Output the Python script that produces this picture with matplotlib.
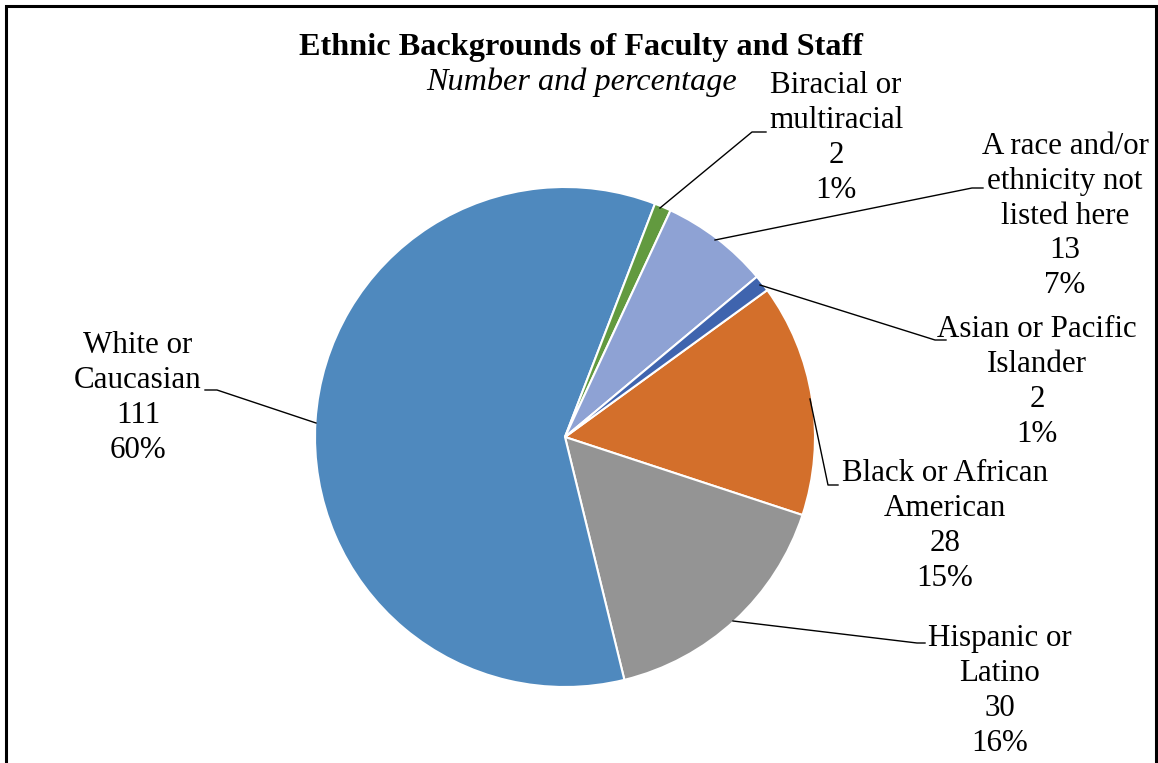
import matplotlib.pyplot as plt
from matplotlib.patches import Rectangle

plt.rcParams['font.family'] = ['Liberation Serif', 'DejaVu Serif']

# data, in the drawing order (clockwise from the top right)
labels = ["Black or African\nAmerican", "Hispanic or\nLatino", "White or\nCaucasian",
          "Biracial or\nmultiracial", "A race and/or\nethnicity not\nlisted here",
          "Asian or Pacific\nIslander"]
counts = [28, 30, 111, 2, 13, 2]
percents = ["15%", "16%", "60%", "1%", "7%", "1%"]
colors = ['#D36F2B', '#949494', '#4F89BE', '#629A3F', '#8EA2D4', '#3F64AE']

W, H = 1158, 763


def px(x, y):
    # pixel position (top-left origin) -> data coords
    return x, H - y


fig = plt.figure(figsize=(W / 100, H / 100), dpi=100)
ax = fig.add_axes([0, 0, 1, 1])
ax.axis('off')

ax.pie(counts, colors=colors, startangle=36, counterclock=False,
       center=px(565, 437), radius=250,
       wedgeprops=dict(edgecolor='white', linewidth=1.5))
ax.set_xlim(0, W)
ax.set_ylim(0, H)
ax.set_aspect('equal')

# label positions and leader lines (layout only)
label_pos = [(945, 526), (1000, 691), (138, 398), (836, 138), (1065, 216), (1037, 382)]
leaders = [
    [(810, 399), (828, 485), (838, 485)],
    [(733, 621), (917, 643), (925, 643)],
    [(316, 423), (217, 390), (205, 390)],
    [(660, 208), (752, 132), (766, 132)],
    [(715, 240), (972, 188), (983, 188)],
    [(760, 285), (935, 340), (946, 340)],
]

for lab, n, p, pos, pts in zip(labels, counts, percents, label_pos, leaders):
    ax.text(*px(*pos), f"{lab}\n{n}\n{p}", ha='center', va='center',
            multialignment='center', fontsize=22.3, linespacing=1.26)
    xs = [q[0] for q in pts]
    ys = [H - q[1] for q in pts]
    ax.plot(xs, ys, color='black', lw=1.0)

ax.text(*px(581, 47), "Ethnic Backgrounds of Faculty and Staff", ha='center', va='center',
        fontsize=23.2, fontweight='bold')
ax.text(*px(582, 82), "Number and percentage", ha='center', va='center',
        fontsize=23.2, fontstyle='italic')

ax.add_patch(Rectangle((5.5, -20), 1150.5, H - 5.5 + 20, fill=False,
                       edgecolor='black', lw=2.2, clip_on=False))

fig.savefig('out.png', dpi=100)
